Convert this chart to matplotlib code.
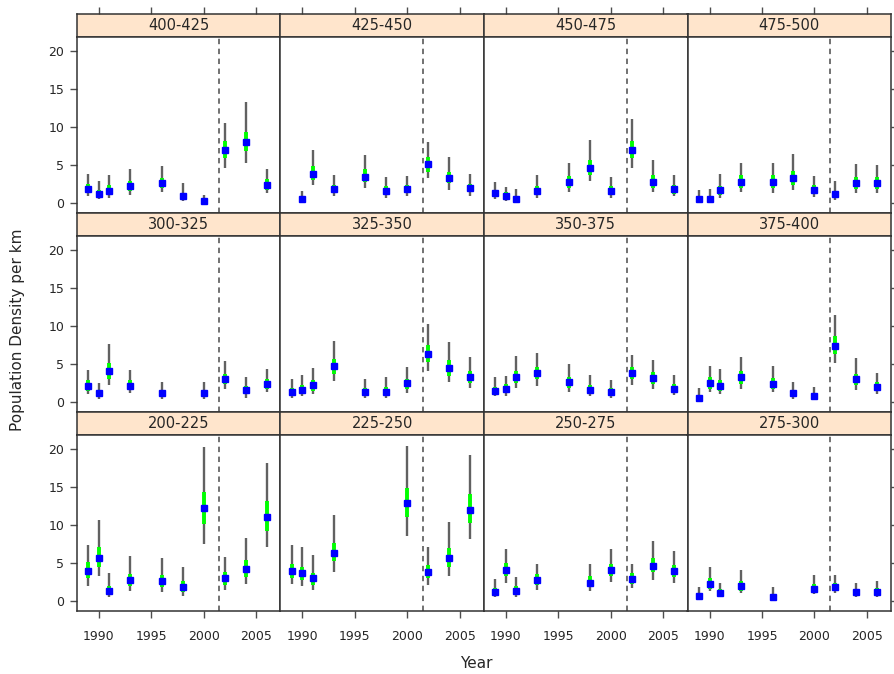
import numpy as np
import matplotlib
matplotlib.use("Agg")
import matplotlib.pyplot as plt

# panel layout, top row first (lattice draws the first level at the bottom)
panel_rows = [["400-425", "425-450", "450-475", "475-500"],
              ["300-325", "325-350", "350-375", "375-400"],
              ["200-225", "225-250", "250-275", "275-300"]]

all_years = [1989, 1990, 1991, 1993, 1996, 1998, 2000, 2002, 2004, 2006]

years = {
    "400-425": all_years,
    "425-450": [1990, 1991, 1993, 1996, 1998, 2000, 2002, 2004, 2006],
    "450-475": all_years,
    "475-500": all_years,
    "300-325": [1989, 1990, 1991, 1993, 1996, 2000, 2002, 2004, 2006],
    "325-350": all_years,
    "350-375": all_years,
    "375-400": all_years,
    "200-225": all_years,
    "225-250": [1989, 1990, 1991, 1993, 2000, 2002, 2004, 2006],
    "250-275": [1989, 1990, 1991, 1993, 1998, 2000, 2002, 2004, 2006],
    "275-300": [1989, 1990, 1991, 1993, 1996, 2000, 2002, 2004, 2006],
}

# point estimates
density = {
    "400-425": [1.8, 1.2, 1.6, 2.2, 2.6, 0.85, 0.2, 6.9, 8.0, 2.4],
    "425-450": [0.45, 3.8, 1.75, 3.45, 1.55, 1.8, 5.1, 3.25, 1.95],
    "450-475": [1.25, 0.9, 0.55, 1.6, 2.75, 4.6, 1.55, 6.9, 2.7, 1.75],
    "475-500": [0.55, 0.55, 1.65, 2.75, 2.75, 3.25, 1.7, 1.15, 2.6, 2.55],
    "300-325": [2.1, 1.1, 4.0, 2.1, 1.1, 1.1, 3.0, 1.55, 2.3],
    "325-350": [1.3, 1.6, 2.15, 4.7, 1.3, 1.3, 2.45, 6.3, 4.45, 3.3],
    "350-375": [1.45, 1.7, 3.3, 3.8, 2.55, 1.6, 1.3, 3.8, 3.15, 1.7],
    "375-400": [0.55, 2.45, 2.1, 3.2, 2.4, 1.1, 0.7, 7.35, 2.95, 1.9],
    "200-225": [3.95, 5.7, 1.3, 2.75, 2.55, 1.85, 12.2, 2.95, 4.25, 11.1],
    "225-250": [3.95, 3.65, 2.95, 6.35, 12.9, 3.8, 5.6, 12.0],
    "250-275": [1.2, 4.05, 1.3, 2.75, 2.4, 4.1, 2.85, 4.6, 3.95],
    "275-300": [0.6, 2.2, 1.05, 1.95, 0.55, 1.6, 1.75, 1.1, 1.2],
}

# outer (grey) interval
ci_lo = {
    "400-425": [0.85, 0.5, 0.6, 1.05, 1.35, 0.2, 0.0, 4.6, 5.2, 1.3],
    "425-450": [0.1, 2.4, 0.85, 2.0, 0.6, 0.85, 3.2, 1.7, 0.9],
    "450-475": [0.55, 0.2, 0.0, 0.6, 1.35, 2.8, 0.6, 4.6, 1.35, 0.85],
    "475-500": [0.1, 0.05, 0.6, 1.35, 1.3, 1.7, 0.7, 0.4, 1.3, 1.3],
    "300-325": [1.0, 0.35, 2.25, 1.15, 0.35, 0.35, 1.7, 0.55, 1.25],
    "325-350": [0.5, 0.7, 1.0, 2.7, 0.5, 0.5, 1.15, 4.05, 2.55, 1.8],
    "350-375": [0.7, 0.7, 1.75, 2.1, 1.3, 0.7, 0.5, 2.2, 1.7, 0.9],
    "375-400": [0.15, 1.25, 1.0, 1.7, 1.25, 0.35, 0.25, 5.1, 1.55, 0.95],
    "200-225": [2.0, 3.2, 0.45, 1.25, 1.1, 0.65, 7.55, 1.4, 2.2, 7.05],
    "225-250": [2.2, 1.9, 1.45, 3.75, 8.55, 2.05, 3.3, 8.1],
    "250-275": [0.5, 2.3, 0.55, 1.45, 1.25, 2.5, 1.65, 2.75, 2.3],
    "275-300": [0.2, 1.25, 0.45, 1.0, 0.15, 0.9, 0.95, 0.45, 0.5],
}
ci_hi = {
    "400-425": [3.8, 2.8, 3.6, 4.5, 4.9, 2.55, 1.05, 10.5, 13.3, 4.5],
    "425-450": [1.5, 7.0, 3.7, 6.25, 3.35, 3.5, 8.0, 6.05, 3.85],
    "450-475": [2.75, 2.1, 1.8, 3.7, 5.3, 8.3, 3.35, 11.0, 5.6, 3.7],
    "475-500": [1.7, 1.85, 3.8, 5.3, 5.3, 6.4, 3.5, 2.9, 5.15, 5.0],
    "300-325": [4.25, 2.5, 7.6, 4.25, 2.55, 2.55, 5.4, 3.3, 4.3],
    "325-350": [3.0, 3.5, 4.4, 8.0, 3.0, 3.2, 4.55, 10.3, 7.85, 5.95],
    "350-375": [3.2, 3.35, 6.1, 6.4, 5.0, 3.5, 2.85, 6.2, 5.55, 3.5],
    "375-400": [1.8, 4.7, 4.3, 5.9, 4.7, 2.55, 2.0, 11.5, 5.75, 3.8],
    "200-225": [7.4, 10.6, 3.65, 5.9, 5.6, 4.4, 20.3, 5.8, 8.35, 18.25],
    "225-250": [7.4, 7.1, 6.05, 11.35, 20.4, 7.1, 10.45, 19.25],
    "250-275": [2.85, 6.8, 3.1, 4.9, 4.85, 6.8, 4.9, 7.9, 6.6],
    "275-300": [1.75, 4.4, 2.4, 4.1, 1.85, 3.4, 3.4, 2.4, 2.65],
}

# inner (green) interval
se_lo = {
    "400-425": [1.28, 0.75, 1.05, 1.5, 2.0, 0.5, 0.1, 5.9, 6.8, 1.7],
    "425-450": [0.2, 3.0, 1.3, 2.7, 1.05, 1.3, 4.1, 2.6, 1.4],
    "450-475": [0.85, 0.55, 0.3, 1.05, 1.95, 3.7, 1.05, 5.9, 1.95, 1.2],
    "475-500": [0.3, 0.3, 1.05, 1.95, 1.95, 2.4, 1.15, 0.75, 1.85, 1.85],
    "300-325": [1.45, 0.7, 3.0, 1.5, 0.7, 0.7, 2.3, 1.0, 1.7],
    "325-350": [0.85, 1.1, 1.45, 3.65, 0.85, 0.85, 1.7, 5.2, 3.4, 2.5],
    "350-375": [1.0, 1.1, 2.45, 2.95, 1.8, 1.05, 0.85, 2.95, 2.4, 1.2],
    "375-400": [0.35, 1.7, 1.4, 2.35, 1.7, 0.7, 0.45, 6.3, 2.2, 1.35],
    "200-225": [3.0, 4.5, 0.85, 2.0, 1.75, 1.2, 10.1, 2.1, 3.15, 9.2],
    "225-250": [3.05, 2.75, 2.1, 5.2, 11.0, 2.95, 4.5, 10.3],
    "250-275": [0.8, 3.2, 0.9, 2.1, 1.8, 3.3, 2.2, 3.75, 3.15],
    "275-300": [0.4, 1.55, 0.75, 1.3, 0.35, 1.15, 1.25, 0.75, 0.8],
}
se_hi = {
    "400-425": [2.47, 1.7, 2.3, 2.8, 3.25, 1.2, 0.35, 8.1, 9.3, 3.1],
    "425-450": [0.8, 4.8, 2.4, 4.4, 2.2, 2.4, 6.1, 4.0, 2.5],
    "450-475": [1.6, 1.35, 0.9, 2.15, 3.5, 5.7, 2.15, 8.1, 3.6, 2.35],
    "475-500": [0.85, 0.9, 2.25, 3.6, 3.6, 4.2, 2.3, 1.6, 3.4, 3.35],
    "300-325": [2.8, 1.6, 5.1, 2.8, 1.6, 1.6, 3.7, 2.1, 3.0],
    "325-350": [1.8, 2.2, 2.8, 5.6, 1.8, 1.9, 3.0, 7.5, 5.5, 4.1],
    "350-375": [2.0, 2.3, 4.0, 4.6, 3.3, 2.2, 1.8, 4.6, 3.9, 2.3],
    "375-400": [0.85, 3.2, 2.8, 4.1, 3.1, 1.6, 1.1, 8.65, 3.7, 2.6],
    "200-225": [5.05, 7.1, 2.0, 3.5, 3.4, 2.6, 14.4, 3.8, 5.35, 13.2],
    "225-250": [4.8, 4.5, 3.7, 7.6, 14.85, 4.7, 6.95, 14.15],
    "250-275": [1.7, 5.0, 1.9, 3.5, 3.2, 4.9, 3.6, 5.6, 4.75],
    "275-300": [0.95, 3.0, 1.5, 2.65, 0.9, 2.2, 2.4, 1.6, 1.7],
}

break_year = 2001.5
xticks = [1990, 1995, 2000, 2005]
yticks = [0, 5, 10, 15, 20]

W, H = 894, 674
fig = plt.figure(figsize=(W / 100, H / 100), dpi=100)

left_px, panel_w = 76.7, 203.6
top_px, row_h, strip_h, panel_h = 14, 199, 23, 175.5

for r, row in enumerate(panel_rows):
    for c, name in enumerate(row):
        x0 = left_px + c * panel_w
        y_strip = top_px + r * row_h
        y_panel = y_strip + strip_h
        # strip
        sax = fig.add_axes([x0 / W, 1 - y_panel / H, panel_w / W, strip_h / H])
        sax.set_facecolor("#ffe5cc")
        sax.set_xticks([])
        sax.set_yticks([])
        sax.text(0.5, 0.5, name, ha="center", va="center", fontsize=10.5,
                 color="0.15", transform=sax.transAxes)
        for sp in sax.spines.values():
            sp.set_linewidth(1.1)
            sp.set_color("0.2")
        if r == 0:
            sax.set_xlim(1987.9, 2007.3)
            sax.set_xticks(xticks)
            sax.tick_params(axis="x", top=True, bottom=False, labeltop=False, labelbottom=False,
                            direction="out", length=5, width=1, color="0.3")

        ax = fig.add_axes([x0 / W, 1 - (y_panel + panel_h) / H, panel_w / W, panel_h / H])
        yr = np.array(years[name])
        ax.vlines(yr, ci_lo[name], ci_hi[name], color="0.38", lw=1.7, zorder=2)
        ax.vlines(yr, se_lo[name], se_hi[name], color="#00ff00", lw=2.8, zorder=3)
        ax.plot(yr, density[name], "s", color="#0000ff", ms=4.3, mec="#0000ff", zorder=4)
        ax.axvline(break_year, color="0.4", lw=1.3, ls=(0, (3, 2.5)), zorder=1)
        ax.set_xlim(1987.9, 2007.3)
        ax.set_ylim(-1.3, 21.9)
        ax.set_xticks(xticks)
        ax.set_yticks(yticks)
        for sp in ax.spines.values():
            sp.set_linewidth(1.1)
            sp.set_color("0.2")
        ax.tick_params(axis="both", direction="out", length=5, width=1, color="0.3",
                       labelsize=9, labelcolor="0.15", bottom=False, left=False,
                       labelbottom=False, labelleft=False)
        if r == len(panel_rows) - 1:
            ax.tick_params(axis="x", bottom=True, labelbottom=True, pad=9)
        if c == 0:
            ax.tick_params(axis="y", left=True, labelleft=True, pad=4)
        if c == len(row) - 1:
            ax.tick_params(axis="y", right=True, labelright=False)

fig.text(476 / W, 1 - 663 / H, "Year", ha="center", va="center", fontsize=11, color="0.15")
fig.text(18 / W, 1 - 330 / H, "Population Density per km", ha="center", va="center",
         rotation=90, fontsize=11, color="0.15")

fig.savefig("out.png", dpi=100)
